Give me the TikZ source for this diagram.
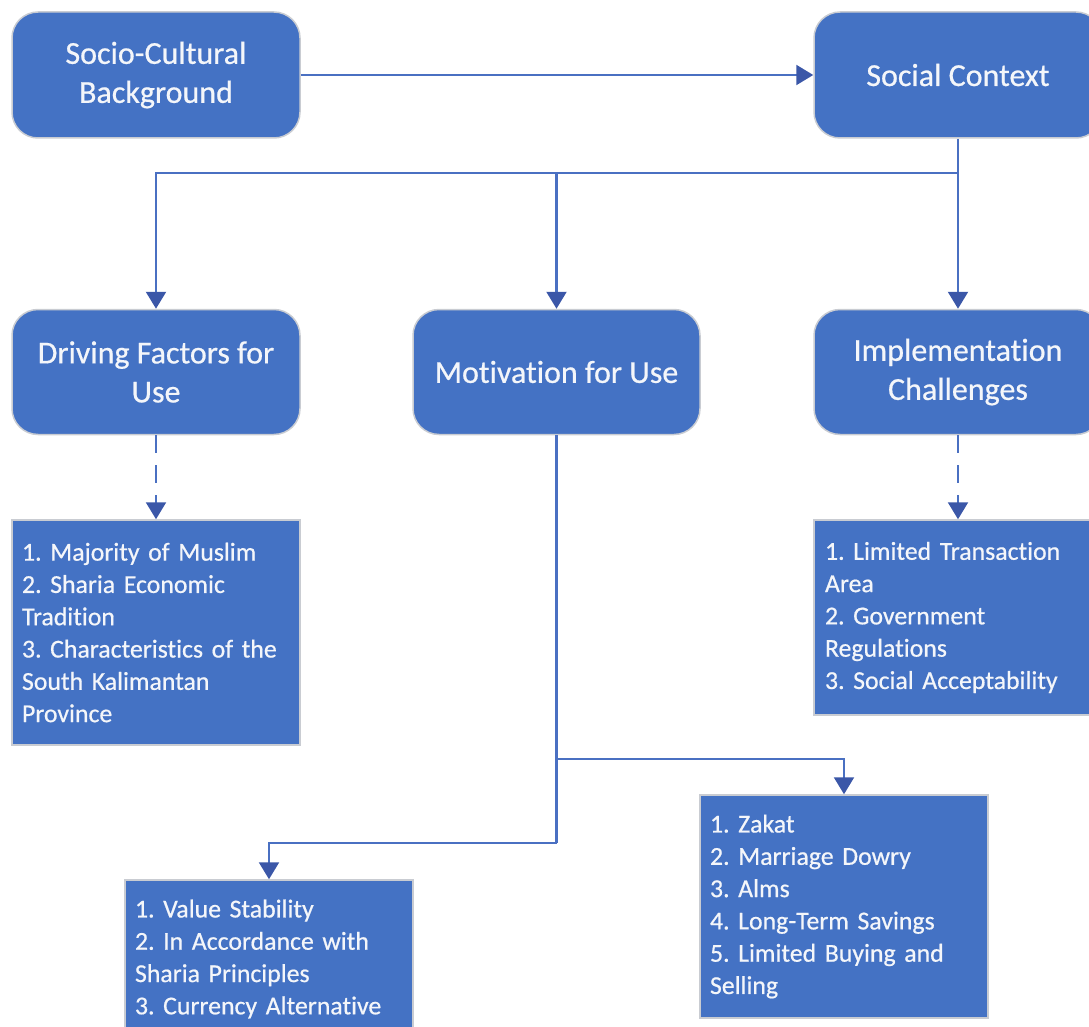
\documentclass[tikz,border=0pt]{standalone}
\usepackage{fontspec}
\setmainfont{Carlito}[RawFeature=-liga]
\newfontfamily\boxfont{Carlito}[RawFeature=-liga,FakeBold=0.6]
\usetikzlibrary{arrows.meta}
\definecolor{boxblue}{HTML}{4472C4}
\definecolor{lineblue}{HTML}{4A70C2}
\definecolor{tipblue}{HTML}{3B57A8}
\definecolor{rimgray}{HTML}{C9CCD2}
\definecolor{textwhite}{HTML}{F4F6FA}
\begin{document}
\begin{tikzpicture}[x=1pt,y=-1pt,
  head/.style={draw=rimgray,line width=1.5pt,fill=boxblue,rounded corners=26pt,
    text=textwhite,align=center,font=\boxfont\fontsize{32}{39}\selectfont\frenchspacing,inner sep=0pt},
  listbox/.style={draw=rimgray,line width=1.5pt,fill=boxblue,
    text=textwhite,align=left,font=\boxfont\fontsize{25.8}{32.3}\selectfont\frenchspacing,inner xsep=10pt,inner ysep=0pt},
  conn/.style={draw=lineblue,line width=2.2pt},
  arr/.style={conn,-{Triangle[width=20pt,length=17pt,color=tipblue]}},
  darr/.style={arr,dash pattern=on 18pt off 12pt}]
\useasboundingbox (0,0) rectangle (1089,1027);
\node[head,minimum width=288pt,minimum height=126pt] (scb) at (156,75) {Socio-Cultural\\Background};
\node[head,minimum width=288pt,minimum height=126pt] (sc) at (958,75) {Social Context};
\node[head,minimum width=288pt,minimum height=125pt] (dfu) at (156,372) {Driving Factors for\\Use};
\node[head,minimum width=287pt,minimum height=125pt] (mfu) at (556.5,372) {Motivation for Use};
\node[head,minimum width=288pt,minimum height=125pt] (ic) at (958,372) {Implementation\\Challenges};
\node[listbox,minimum width=288pt,minimum height=225pt,text width=268pt] (l1) at (156,632.5)
  {1. Majority of Muslim\\2. Sharia Economic\\Tradition\\3. Characteristics of the\\South Kalimantan\\Province};
\node[listbox,minimum width=288pt,minimum height=195pt,text width=266pt] (l2) at (958,617.5)
  {1. Limited Transaction\\Area\\2. Government\\Regulations\\3. Social Acceptability};
\node[listbox,minimum width=288pt,minimum height=223pt,text width=268pt] (l3) at (844,906.5)
  {1. Zakat\\2. Marriage Dowry\\3. Alms\\4. Long-Term Savings\\5. Limited Buying and\\Selling};
\node[listbox,minimum width=288pt,minimum height=158pt,text width=268pt] (l4) at (269,959)
  {1. Value Stability\\2. In Accordance with\\Sharia Principles\\3. Currency Alternative};
\draw[arr] (scb) -- (sc);
\coordinate (jb) at (958,173);
\draw[arr] (sc.south) -- (ic.north);
\draw[arr] (sc.south |- jb) -| (dfu.north);
\draw[arr] (sc.south |- jb) -| (mfu.north);
\draw[darr] (dfu.south) -- (l1.north);
\draw[darr] (ic.south) -- (l2.north);
\coordinate (m1) at (556.5,759);
\coordinate (m2) at (556.5,843);
\draw[conn] (mfu.south) -- (m2);
\draw[arr] (m2) -| (l4.north);
\draw[arr] (m1) -| (l3.north);
\end{tikzpicture}
\end{document}
